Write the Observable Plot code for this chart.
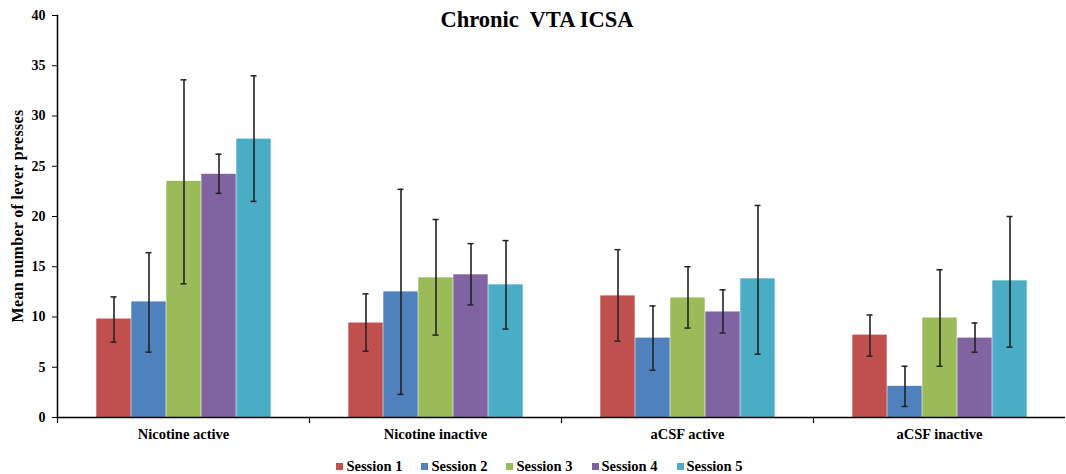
<!DOCTYPE html>
<html>
<head>
<meta charset="utf-8">
<script src="https://cdn.jsdelivr.net/npm/d3@7"></script>
<script src="https://cdn.jsdelivr.net/npm/@observablehq/plot@0.6"></script>
<style>
  html, body { margin: 0; padding: 0; background: #fff; }
  #wrap { position: relative; width: 1066px; height: 474px; font-family: "Liberation Serif", "Times New Roman", serif; overflow: hidden; }
  #chart svg text { font-size: 14px; font-weight: bold; fill: #000; }
  #chart svg g[aria-label="fx-axis tick label"] text { font-size: 14.5px; }
  #title { position: absolute; left: 0; width: 1074px; top: 7px; text-align: center; font-weight: bold; font-size: 22.5px; color: #000; }
  #ylabel { position: absolute; left: 18px; top: 216px; transform: translate(-50%, -50%) rotate(-90deg); white-space: nowrap; font-weight: bold; font-size: 16px; color: #000; letter-spacing: 0.3px; }
  #legend { position: absolute; left: 0; width: 1079px; top: 456px; height: 20px; display: flex; justify-content: center; align-items: center; gap: 19px; font-weight: bold; font-size: 14.5px; color: #000; }
  #legend .item { display: flex; align-items: center; gap: 3px; }
  #legend .sw { width: 7px; height: 7px; display: inline-block; }
</style>
</head>
<body>
<div id="wrap">
  <div id="chart"></div>
  <div id="title"></div>
  <div id="ylabel"></div>
  <div id="legend"></div>
</div>
<script>
const categories = ["Nicotine active", "Nicotine inactive", "aCSF active", "aCSF inactive"];
const sessions = ["Session 1", "Session 2", "Session 3", "Session 4", "Session 5"];
const colors = ["#C0504D", "#4F81BD", "#9BBB59", "#8064A2", "#4BACC6"];
// mean values per category, one entry per session
const means = [
  [9.8, 11.5, 23.5, 24.2, 27.7],
  [9.4, 12.5, 13.9, 14.2, 13.2],
  [12.1, 7.9, 11.9, 10.5, 13.8],
  [8.2, 3.1, 9.9, 7.9, 13.6]
];
const errLow = [
  [7.5, 6.5, 13.3, 22.3, 21.5],
  [6.6, 2.3, 8.2, 11.2, 8.8],
  [7.6, 4.7, 8.9, 8.4, 6.3],
  [6.1, 1.1, 5.1, 6.5, 7.0]
];
const errHigh = [
  [12.0, 16.4, 33.6, 26.2, 34.0],
  [12.3, 22.7, 19.7, 17.3, 17.6],
  [16.7, 11.1, 15.0, 12.7, 21.1],
  [10.2, 5.1, 14.7, 9.4, 20.0]
];
const yTicks = [0, 5, 10, 15, 20, 25, 30, 35, 40];
const titleText = "Chronic VTA ICSA";
const yLabel = "Mean number of lever presses";

const data = [];
categories.forEach((c, i) => sessions.forEach((s, j) => {
  data.push({category: c, session: s, value: means[i][j], lo: errLow[i][j], hi: errHigh[i][j]});
}));

const font = "Liberation Serif";
const errColor = "#222";

const chart = Plot.plot({
  width: 1066,
  height: 452,
  marginLeft: 55,
  marginRight: 0,
  marginTop: 15,
  marginBottom: 35,
  style: {fontFamily: font, fontWeight: "bold", fontSize: "14px", color: "#000", background: "#fff"},
  fx: {domain: categories, padding: 0, label: null, tickSize: 0, tickPadding: 11},
  x: {domain: sessions, paddingInner: 0, paddingOuter: 1.08, axis: null},
  y: {domain: [0, 40], ticks: yTicks, label: null, tickSize: 5, tickPadding: 7},
  color: {domain: sessions, range: colors},
  marks: [
    Plot.barY(data, {fx: "category", x: "session", y: "value", fill: "session", insetLeft: 0.3, insetRight: 0.3}),
    Plot.ruleX(data, {fx: "category", x: "session", y1: "lo", y2: "hi", stroke: errColor, strokeWidth: 1.6}),
    Plot.tickY(data, {fx: "category", x: "session", y: "lo", stroke: errColor, strokeWidth: 1.5, insetLeft: 14.5, insetRight: 14.5}),
    Plot.tickY(data, {fx: "category", x: "session", y: "hi", stroke: errColor, strokeWidth: 1.5, insetLeft: 14.5, insetRight: 14.5}),
    Plot.ruleY([0], {stroke: "#000", strokeWidth: 1.5}),
    Plot.frame({anchor: "left", facetAnchor: "left", stroke: "#000", strokeWidth: 1.5}),
    Plot.frame({anchor: "left", stroke: "#000", strokeWidth: 1.2, insetTop: 402, insetBottom: -5})
  ]
});
document.getElementById("chart").appendChild(chart);
document.getElementById("title").innerHTML = titleText.replace(" ", "&nbsp; ");
document.getElementById("ylabel").textContent = yLabel;

const legend = document.getElementById("legend");
sessions.forEach((s, i) => {
  const it = document.createElement("div");
  it.className = "item";
  const sw = document.createElement("span");
  sw.className = "sw";
  sw.style.background = colors[i];
  const t = document.createElement("span");
  t.textContent = s;
  it.appendChild(sw); it.appendChild(t);
  legend.appendChild(it);
});
</script>
</body>
</html>
